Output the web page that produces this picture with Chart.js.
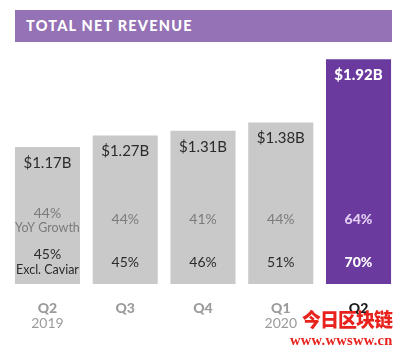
<!DOCTYPE html>
<html>
<head>
<meta charset="utf-8">
<script src="https://cdn.jsdelivr.net/npm/chart.js@4/dist/chart.umd.min.js"></script>
<style>
html,body{margin:0;padding:0;background:#fff;}
#wrap{position:relative;width:403px;height:347px;overflow:hidden;}
#title{position:absolute;left:15px;top:10px;width:377px;height:32px;background:#9571b5;color:#fff;font-family:Lato,"Open Sans",sans-serif;font-weight:900;font-size:14.5px;letter-spacing:1.2px;line-height:32px;padding-left:11px;box-sizing:border-box;}
#wm1{position:absolute;left:302px;top:308px;color:#e8231d;font-family:"Noto Sans CJK SC",sans-serif;font-weight:900;font-size:19px;line-height:22px;letter-spacing:-1px;}
#wm2{position:absolute;left:290px;top:333px;color:#e8231d;font-family:"Liberation Serif",serif;font-weight:bold;font-size:14.5px;line-height:15px;letter-spacing:0.3px;}
canvas{position:absolute;left:0;top:0;}
</style>
</head>
<body>
<div id="wrap">
<canvas id="c" width="403" height="347"></canvas>
<div id="title">TOTAL NET REVENUE</div>
<div id="wm1">今日区块链</div>
<div id="wm2">www.wwsww.cn</div>
</div>
<script>
const quarters = ["Q2","Q3","Q4","Q1","Q2"];
const years = ["2019","","","2020",""];
const revenue = [1.17,1.27,1.31,1.38,1.92];
const revenueLabels = ["$1.17B","$1.27B","$1.31B","$1.38B","$1.92B"];
const yoyGrowth = [44,44,41,44,64];
const exclCaviar = [45,45,46,51,70];

const FONT = 'Lato, "Open Sans", sans-serif';
const grey = '#c9c9c9', purple = '#6b3a9e';

const labelsPlugin = {
  id: 'barTexts',
  afterDatasetsDraw(chart) {
    const ctx = chart.ctx;
    const meta = chart.getDatasetMeta(0);
    const bottom = chart.chartArea.bottom;
    ctx.save();
    ctx.textAlign = 'center';
    ctx.textBaseline = 'middle';
    meta.data.forEach((bar, i) => {
      const x = bar.x;
      const last = i === revenue.length - 1;
      const first = i === 0;
      ctx.font = (last ? '900 ' : '400 ') + '15px ' + FONT;
      ctx.fillStyle = last ? '#ffffff' : '#2b2b2b';
      ctx.fillText(revenueLabels[i], x, bar.y + 16);
      ctx.font = (last ? '900 ' : '400 ') + '14px ' + FONT;
      ctx.fillStyle = last ? '#e3cff2' : '#7b7b7b';
      ctx.fillText(yoyGrowth[i] + '%', x, bottom - (first ? 71 : 65));
      if (first) {
        ctx.font = '400 12.5px ' + FONT;
        ctx.fillText('YoY Growth', x, bottom - 56);
      }
      ctx.font = (last ? '900 ' : '400 ') + '14px ' + FONT;
      ctx.fillStyle = last ? '#ffffff' : '#2b2b2b';
      ctx.fillText(exclCaviar[i] + '%', x, bottom - (first ? 30 : 22));
      if (first) {
        ctx.font = '400 12.5px ' + FONT;
        ctx.fillText('Excl. Caviar', x, bottom - 14);
      }
      ctx.font = '900 14px ' + FONT;
      ctx.fillStyle = last ? '#1a1a1a' : '#9b9b9b';
      ctx.fillText(quarters[i], x, bottom + 24);
      if (years[i]) {
        ctx.font = '400 14px ' + FONT;
        ctx.fillStyle = '#9b9b9b';
        ctx.fillText(years[i], x, bottom + 39);
      }
    });
    ctx.restore();
  }
};

new Chart(document.getElementById('c'), {
  type: 'bar',
  data: {
    labels: quarters,
    datasets: [{
      data: revenue,
      backgroundColor: revenue.map((v, i) => i === revenue.length - 1 ? purple : grey),
      borderWidth: 0,
      barPercentage: 0.837,
      categoryPercentage: 1.0
    }]
  },
  options: {
    responsive: false,
    animation: false,
    devicePixelRatio: 1,
    layout: { padding: { left: 8.6, right: 5.6, top: 50, bottom: 63 } },
    plugins: { legend: { display: false }, tooltip: { enabled: false } },
    scales: {
      x: { display: false },
      y: { display: false, min: 0, max: 2.0 }
    }
  },
  plugins: [labelsPlugin]
});
</script>
</body>
</html>
